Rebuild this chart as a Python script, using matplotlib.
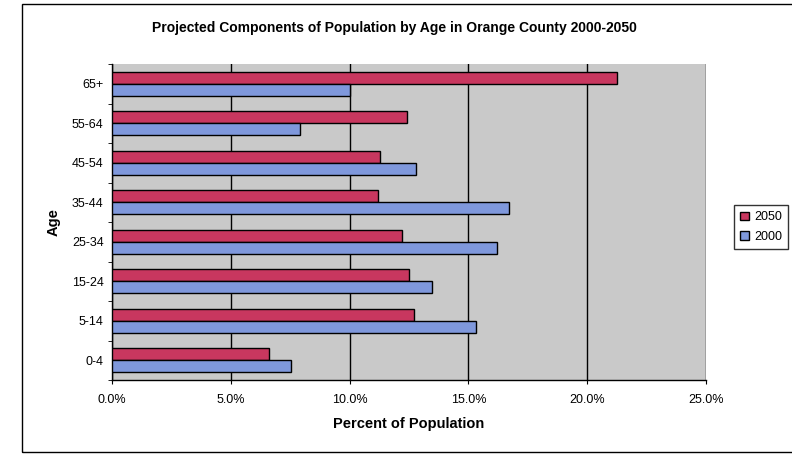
import matplotlib
matplotlib.use("Agg")
import matplotlib.pyplot as plt
from matplotlib.patches import Rectangle
import numpy as np

plt.rcParams["font.family"] = ["Liberation Sans", "DejaVu Sans"]

categories = ["0-4", "5-14", "15-24", "25-34", "35-44", "45-54", "55-64", "65+"]
values_2050 = [6.6, 12.7, 12.5, 12.2, 11.2, 11.3, 12.4, 21.25]
values_2000 = [7.55, 15.3, 13.45, 16.2, 16.7, 12.8, 7.9, 10.0]
x_ticks = [0, 5, 10, 15, 20, 25]
x_tick_labels = ["0.0%", "5.0%", "10.0%", "15.0%", "20.0%", "25.0%"]

W, H = 792, 455
fig = plt.figure(figsize=(W / 100, H / 100), dpi=100)
fig.patch.set_facecolor("white")
ax = fig.add_axes([112 / W, 1 - 380 / H, (706 - 112) / W, (380 - 64) / H])
ax.set_facecolor("#c9c9c9")

y = np.arange(len(categories))
h = 0.30
ax.barh(y + h / 2, values_2050, height=h, color="#c8375f", edgecolor="black", linewidth=1.0, label="2050", zorder=3)
ax.barh(y - h / 2, values_2000, height=h, color="#7f98dc", edgecolor="black", linewidth=1.0, label="2000", zorder=3)

ax.set_xlim(0, 25)
ax.set_ylim(-0.5, len(categories) - 0.5)
ax.set_xticks(x_ticks)
ax.set_xticklabels(x_tick_labels, fontsize=9)
ax.set_yticks(y)
ax.set_yticklabels(categories, fontsize=9)
ax.set_yticks(np.arange(-0.5, len(categories), 1), minor=True)
ax.tick_params(axis="y", which="major", length=0, pad=6)
ax.tick_params(axis="y", which="minor", length=3, direction="out")
ax.tick_params(axis="x", which="major", length=3, pad=7)
ax.xaxis.grid(True, color="black", linewidth=1.0, zorder=1)
ax.set_axisbelow(True)
for s in ["top", "right"]:
    ax.spines[s].set_visible(False)
for s in ["left", "bottom"]:
    ax.spines[s].set_linewidth(1.0)

ax.set_xlabel("Percent of Population", fontsize=10.5, fontweight="bold", labelpad=8)
ax.set_ylabel("Age", fontsize=10.5, fontweight="bold", labelpad=8)
fig.text(394 / W, 1 - 28 / H, "Projected Components of Population by Age in Orange County 2000-2050",
         fontsize=10, fontweight="bold", ha="center", va="center")

leg = fig.legend(loc="center left", bbox_to_anchor=(734 / W, 1 - 227 / H), fontsize=9,
                 frameon=True, fancybox=False, edgecolor="black", handlelength=0.7, handleheight=0.7,
                 handletextpad=0.4, borderpad=0.5, labelspacing=0.6, borderaxespad=0)
leg.get_frame().set_linewidth(1.0)

fig.patches.append(Rectangle((22 / W, 1 - 452 / H), 1, (452 - 4) / H, transform=fig.transFigure,
                             fill=False, edgecolor="black", linewidth=1.0))

fig.savefig("out.png", dpi=100)
